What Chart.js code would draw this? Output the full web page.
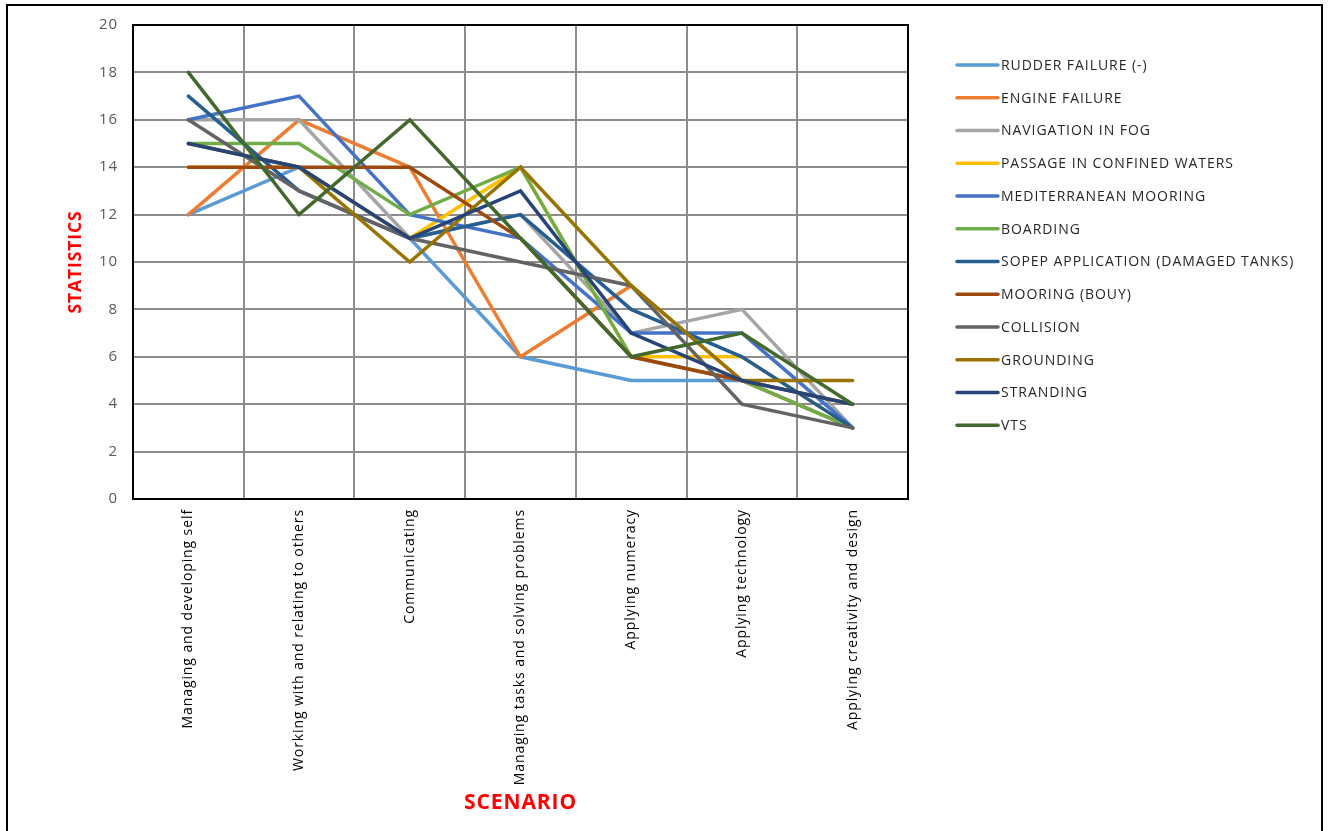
<!DOCTYPE html>
<html>
<head>
<meta charset="utf-8">
<title>Statistics by scenario</title>
<script src="https://cdn.jsdelivr.net/npm/chart.js@4.4.1/dist/chart.umd.min.js"></script>
<style>
  html, body { margin: 0; padding: 0; background: #ffffff; overflow: hidden; }
  #wrap { position: relative; width: 1331px; height: 831px; }
  #frame { position: absolute; left: 6px; top: 4px; width: 1317px; height: 900px; border: 2px solid #000; box-sizing: border-box; }
  #chart { position: absolute; left: 0; top: 0; }
</style>
</head>
<body>
<div id="wrap">
  <div id="frame"></div>
  <canvas id="chart" width="1331" height="831"></canvas>
</div>
<script>
// Skill categories along the x axis
const categories = [
  'Managing and developing self',
  'Working with and relating to others',
  'Communicating',
  'Managing tasks and solving problems',
  'Applying numeracy',
  'Applying technology',
  'Applying creativity and design'
];

// Scores per scenario
const rudderFailure      = [12, 14, 11, 6, 5, 5, 3];
const engineFailure      = [12, 16, 14, 6, 9, 5, 3];
const navigationInFog    = [16, 16, 11, 12, 7, 8, 3];
const confinedWaters     = [14, 14, 11, 14, 6, 6, 3];
const mediterraneanMoor  = [16, 17, 12, 11, 7, 7, 3];
const boarding           = [15, 15, 12, 14, 6, 5, 3];
const sopepApplication   = [17, 13, 11, 12, 8, 6, 3];
const mooringBouy        = [14, 14, 14, 11, 6, 5, 4];
const collision          = [16, 13, 11, 10, 9, 4, 3];
const grounding          = [15, 14, 10, 14, 9, 5, 5];
const stranding          = [15, 14, 11, 13, 7, 5, 4];
const vts                = [18, 12, 16, 11, 6, 7, 4];

// Y axis tick values
const yTicks = [0, 2, 4, 6, 8, 10, 12, 14, 16, 18, 20];

const seriesNames = [
  'RUDDER FAILURE (-)', 'ENGINE FAILURE', 'NAVIGATION IN FOG', 'PASSAGE IN CONFINED WATERS',
  'MEDITERRANEAN MOORING', 'BOARDING', 'SOPEP APPLICATION (DAMAGED TANKS)', 'MOORING (BOUY)',
  'COLLISION', 'GROUNDING', 'STRANDING', 'VTS'
];
const seriesValues = [
  rudderFailure, engineFailure, navigationInFog, confinedWaters,
  mediterraneanMoor, boarding, sopepApplication, mooringBouy,
  collision, grounding, stranding, vts
];
const seriesColors = [
  '#5B9BD5', '#ED7D31', '#A5A5A5', '#FFC000',
  '#4472C4', '#70AD47', '#255E91', '#9E480E',
  '#636363', '#997300', '#264478', '#43682B'
];

const FONT = "'Open Sans', 'DejaVu Sans', sans-serif";

// Later series are painted over earlier ones
const datasets = seriesNames.map((name, i) => ({
  label: name,
  data: seriesValues[i],
  order: seriesNames.length - i,
  borderColor: seriesColors[i],
  backgroundColor: seriesColors[i],
  borderWidth: 3.5,
  pointRadius: 0,
  pointHoverRadius: 0,
  tension: 0,
  fill: false,
  borderJoinStyle: 'miter',
  borderCapStyle: 'round'
}));

// Slightly open letter spacing for the axis text
const axisTextSpacing = {
  id: 'axisTextSpacing',
  beforeDraw(chart) { chart.ctx.letterSpacing = '0.9px'; },
  beforeDatasetsDraw(chart) { chart.ctx.letterSpacing = '0px'; }
};

// Frame around the plotting area
const plotFrame = {
  id: 'plotFrame',
  beforeDatasetsDraw(chart) {
    const { ctx, chartArea: a } = chart;
    ctx.save();
    ctx.strokeStyle = '#000000';
    ctx.lineWidth = 2;
    ctx.strokeRect(a.left, a.top, a.right - a.left, a.bottom - a.top);
    ctx.restore();
  }
};

// Legend drawn as a column of line samples beside the plot
const sideLegend = {
  id: 'sideLegend',
  afterDraw(chart) {
    const { ctx } = chart;
    const x0 = 957, x1 = 998, textX = 1001, y0 = 65, pitch = 32.75;
    ctx.save();
    ctx.font = '14px ' + FONT;
    ctx.letterSpacing = '0.95px';
    ctx.textBaseline = 'middle';
    ctx.textAlign = 'left';
    chart.data.datasets.forEach((ds, i) => {
      const y = y0 + i * pitch;
      ctx.strokeStyle = ds.borderColor;
      ctx.lineWidth = 3.5;
      ctx.lineCap = 'round';
      ctx.beginPath();
      ctx.moveTo(x0, y);
      ctx.lineTo(x1, y);
      ctx.stroke();
      ctx.fillStyle = '#262626';
      ctx.fillText(ds.label, textX, y + 1);
    });
    ctx.letterSpacing = '0px';
    ctx.restore();
  }
};

new Chart(document.getElementById('chart'), {
  type: 'line',
  data: { labels: categories, datasets },
  plugins: [axisTextSpacing, plotFrame, sideLegend],
  options: {
    responsive: false,
    devicePixelRatio: 1,
    animation: false,
    events: [],
    layout: { padding: { left: 0, top: 25, right: 423, bottom: 0 } },
    plugins: {
      legend: { display: false },
      tooltip: { enabled: false }
    },
    scales: {
      x: {
        type: 'category',
        offset: true,
        grid: { offset: true, color: '#8c8c8c', lineWidth: 2, drawTicks: false },
        border: { display: false },
        ticks: {
          minRotation: 90, maxRotation: 90, autoSkip: false, padding: 10,
          color: '#000000', font: { family: FONT, size: 14 }
        },
        title: {
          display: true, text: 'SCENARIO', color: '#FF0000',
          font: { family: FONT, size: 21, weight: 'bold' },
          padding: { top: 0, bottom: 15 }
        },
        afterFit(scale) { scale.height = 332; }
      },
      y: {
        min: 0, max: 20,
        afterBuildTicks(scale) { scale.ticks = yTicks.map(v => ({ value: v })); },
        grid: { color: '#8c8c8c', lineWidth: 2, drawTicks: false },
        border: { display: false },
        ticks: { padding: 15, color: '#595959', font: { family: FONT, size: 15 } },
        title: {
          display: true, text: 'STATISTICS', color: '#FF0000',
          font: { family: FONT, size: 17.5, weight: 'bold' },
          padding: { top: 66, bottom: 0 }
        },
        afterFit(scale) { scale.width = 133; }
      }
    }
  }
});
</script>
</body>
</html>
